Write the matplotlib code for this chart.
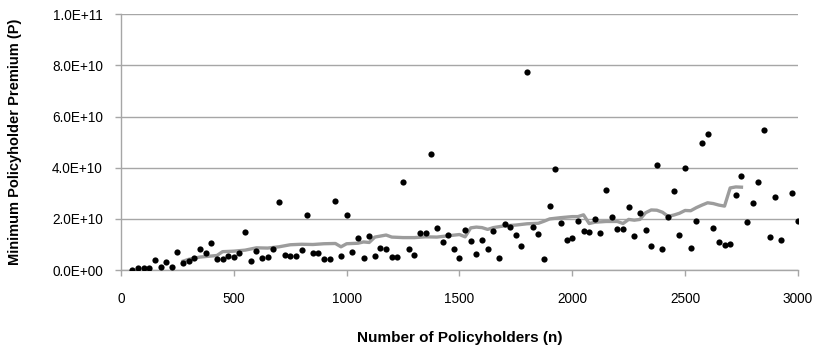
import matplotlib
matplotlib.use("Agg")
import matplotlib.pyplot as plt
from matplotlib.ticker import FuncFormatter

# scatter data: number of policyholders vs minimum premium
n_points = [50, 75, 100, 125, 150, 175, 200, 225, 250, 275, 300, 325, 350, 375, 400,
            425, 450, 475, 500, 525, 550, 575, 600, 625, 650, 675, 700, 725, 750, 775,
            800, 825, 850, 875, 900, 925, 950, 975, 1000, 1025, 1050, 1075, 1100, 1125,
            1150, 1175, 1200, 1225, 1250, 1275, 1300, 1325, 1350, 1375, 1400, 1425, 1450,
            1475, 1500, 1525, 1550, 1575, 1600, 1625, 1650, 1675, 1700, 1725, 1750, 1775,
            1800, 1825, 1850, 1875, 1900, 1925, 1950, 1975, 2000, 2025, 2050, 2075, 2100,
            2125, 2150, 2175, 2200, 2225, 2250, 2275, 2300, 2325, 2350, 2375, 2400, 2425,
            2450, 2475, 2500, 2525, 2550, 2575, 2600, 2625, 2650, 2675, 2700, 2725, 2750,
            2775, 2800, 2825, 2850, 2875, 2900, 2925, 2975, 3000]
premium_e9 = [0.2, 0.8, 0.8, 0.8, 3.9, 1.3, 3.1, 1.2, 6.9, 2.9, 3.4, 4.7, 8.3, 6.8, 10.4,
              4.4, 4.4, 5.7, 5.3, 6.5, 15.0, 3.4, 7.5, 4.7, 5.3, 8.1, 26.8, 6.0, 5.5, 5.5,
              7.8, 21.7, 6.6, 6.6, 4.2, 4.3, 27.0, 5.7, 21.7, 7.0, 12.5, 4.6, 13.3, 5.5,
              8.7, 8.2, 5.3, 5.2, 34.3, 8.2, 6.0, 14.6, 14.6, 45.3, 16.5, 10.9, 13.9,
              8.1, 4.6, 15.6, 11.2, 6.4, 11.7, 8.2, 15.1, 4.7, 18.1, 16.8, 13.9, 9.6,
              77.4, 16.8, 14.2, 4.2, 25.2, 39.4, 18.3, 11.6, 12.7, 19.2, 15.2, 14.8, 19.9,
              14.6, 31.3, 20.9, 16.0, 15.9, 24.7, 13.4, 22.2, 15.7, 9.6, 41.2, 8.2, 20.8,
              31.1, 13.8, 39.7, 8.8, 19.1, 49.7, 53.3, 16.6, 10.8, 9.8, 10.1, 29.5, 36.7,
              18.6, 26.3, 34.6, 54.9, 12.9, 28.5, 11.7, 30.1, 19.1]

# gray trend line
trend_n = [275, 300, 350, 400, 425, 450, 500, 550, 600, 650, 700, 750, 800, 850, 900,
           950, 975, 1000, 1050, 1075, 1100, 1125, 1175, 1200, 1250, 1300, 1350, 1400,
           1450, 1500, 1525, 1550, 1575, 1600, 1625, 1650, 1700, 1750, 1800, 1850, 1875,
           1900, 1950, 2000, 2025, 2050, 2075, 2100, 2150, 2200, 2225, 2250, 2275, 2300,
           2325, 2350, 2375, 2400, 2425, 2450, 2475, 2500, 2525, 2550, 2575, 2600, 2625,
           2650, 2675, 2700, 2725, 2750]
trend_e9 = [3.5, 4.2, 5.1, 5.5, 5.7, 7.2, 7.4, 7.8, 8.7, 8.6, 9.1, 9.9, 10.1, 10.0, 10.3,
            10.4, 9.1, 10.3, 10.5, 11.0, 10.8, 12.9, 13.7, 12.9, 12.7, 12.7, 13.0, 12.9,
            13.4, 13.9, 13.0, 16.5, 16.8, 16.6, 15.9, 16.6, 17.3, 17.6, 18.1, 18.3, 19.1,
            20.0, 20.5, 20.9, 20.9, 21.6, 18.2, 18.7, 19.0, 19.0, 18.2, 19.8, 19.5, 19.8,
            22.4, 23.5, 23.4, 22.6, 21.0, 21.5, 22.2, 23.3, 23.2, 24.4, 25.4, 26.3, 26.0,
            25.4, 25.0, 32.1, 32.5, 32.4]

premium = [v * 1e9 for v in premium_e9]
trend = [v * 1e9 for v in trend_e9]

plt.rcParams['font.family'] = ['Liberation Sans', 'DejaVu Sans']

fig = plt.figure(figsize=(8.2, 3.54), dpi=100)
ax = fig.add_axes([0.1476, 0.237, 0.8254, 0.723])

grid_col = "#a6a6a6"
ax.grid(axis="y", color=grid_col, linewidth=1.0)
ax.set_axisbelow(True)

ax.scatter(n_points, premium, s=20, color="black", zorder=3, linewidths=0)
ax.plot(trend_n, trend, color="#9c9c9c", linewidth=2.4, zorder=2, solid_joinstyle="round")

ax.set_xlim(0, 3000)
ax.set_ylim(0, 1e11)
ax.set_xticks(range(0, 3001, 500))
ax.set_yticks([0, 2e10, 4e10, 6e10, 8e10, 1e11])
ax.yaxis.set_major_formatter(FuncFormatter(lambda v, p: "%.1E" % v))

for s in ["top", "right"]:
    ax.spines[s].set_visible(False)
for s in ["left", "bottom"]:
    ax.spines[s].set_color(grid_col)
    ax.spines[s].set_linewidth(1.0)

ax.tick_params(axis="both", colors=grid_col, length=4, width=1.0, labelsize=9.8,
               labelcolor="black")
ax.tick_params(axis="x", pad=12)
ax.tick_params(axis="y", pad=9)

ax.set_xlabel("Number of Policyholders (n)", fontsize=11, fontweight="bold", labelpad=18)
ax.set_ylabel("Minimum Policyholder Premium (P)", fontsize=10.5, fontweight="bold",
              labelpad=22)

fig.savefig("out.png", dpi=100)
